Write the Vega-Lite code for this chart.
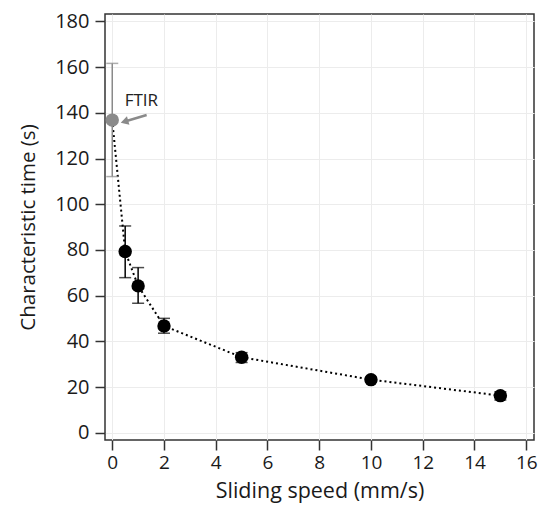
{
  "$schema": "https://vega.github.io/schema/vega-lite/v6.json",
  "autosize": "none",
  "width": 429,
  "height": 426,
  "padding": {"left": 105, "top": 14, "right": 6, "bottom": 69},
  "background": "white",
  "config": {
    "view": {"stroke": "#333333", "strokeWidth": 1.5},
    "axis": {
      "labelFont": "Open Sans",
      "titleFont": "Open Sans",
      "labelFontSize": 19,
      "titleFontSize": 21,
      "titleFontWeight": "normal",
      "labelColor": "#1a1a1a",
      "titleColor": "#1a1a1a",
      "domain": false,
      "tickColor": "#333333",
      "tickWidth": 1.5,
      "tickSize": 10,
      "gridColor": "#ececec",
      "gridWidth": 1
    }
  },
  "datasets": {
    "pts": [
      {"speed": 0, "time": 136.8, "lo": 112.1, "hi": 161.6, "method": "FTIR"},
      {"speed": 0.5, "time": 79.3, "lo": 67.9, "hi": 90.5, "method": "Sliding"},
      {"speed": 1, "time": 64.3, "lo": 56.7, "hi": 72.3, "method": "Sliding"},
      {"speed": 2, "time": 46.8, "lo": 43.6, "hi": 50.1, "method": "Sliding"},
      {"speed": 5, "time": 33.1, "lo": 30.8, "hi": 35.1, "method": "Sliding"},
      {"speed": 10, "time": 23.3, "lo": 22.3, "hi": 24.3, "method": "Sliding"},
      {"speed": 15, "time": 16.3, "lo": 14.4, "hi": 18.0, "method": "Sliding"}
    ],
    "arrow": [
      {"x1": 1.33, "y1": 139.0, "x2": 0.52, "y2": 136.3, "label": "FTIR", "lx": 0.48, "ly": 145.0}
    ]
  },
  "layer": [
    {
      "data": {"name": "pts"},
      "mark": {"type": "line", "color": "black", "strokeDash": [2, 3], "strokeWidth": 2},
      "encoding": {
        "x": {
          "field": "speed", "type": "quantitative",
          "scale": {"domain": [-0.28, 16.3], "nice": false, "zero": false},
          "axis": {"values": [0, 2, 4, 6, 8, 10, 12, 14, 16], "title": "Sliding speed (mm/s)", "titleFontSize": 21.5, "grid": true, "labelPadding": 3, "titlePadding": 8}
        },
        "y": {
          "field": "time", "type": "quantitative",
          "scale": {"domain": [-3.1, 183.2], "nice": false, "zero": false},
          "axis": {"values": [0, 20, 40, 60, 80, 100, 120, 140, 160, 180], "title": "Characteristic time (s)", "titleFontSize": 20.5, "labelFontSize": 20, "grid": true, "labelPadding": 6, "titlePadding": 16}
        },
        "order": {"field": "speed"}
      }
    },
    {
      "data": {"name": "pts"},
      "mark": {"type": "rule", "strokeWidth": 1.5},
      "encoding": {
        "x": {"field": "speed", "type": "quantitative"},
        "y": {"field": "lo", "type": "quantitative"},
        "y2": {"field": "hi"},
        "color": {"field": "method", "type": "nominal", "scale": {"domain": ["FTIR", "Sliding"], "range": ["#8a8a8a", "#000000"]}, "legend": null}
      }
    },
    {
      "data": {"name": "pts"},
      "mark": {"type": "tick", "orient": "horizontal", "size": 12, "thickness": 1.5},
      "encoding": {
        "x": {"field": "speed", "type": "quantitative"},
        "y": {"field": "lo", "type": "quantitative"},
        "color": {"field": "method", "type": "nominal", "legend": null}
      }
    },
    {
      "data": {"name": "pts"},
      "mark": {"type": "tick", "orient": "horizontal", "size": 12, "thickness": 1.5},
      "encoding": {
        "x": {"field": "speed", "type": "quantitative"},
        "y": {"field": "hi", "type": "quantitative"},
        "color": {"field": "method", "type": "nominal", "legend": null}
      }
    },
    {
      "data": {"name": "pts"},
      "mark": {"type": "point", "filled": true, "opacity": 1, "size": 180, "shape": "circle"},
      "encoding": {
        "x": {"field": "speed", "type": "quantitative"},
        "y": {"field": "time", "type": "quantitative"},
        "color": {"field": "method", "type": "nominal", "legend": null}
      }
    },
    {
      "data": {"name": "arrow"},
      "mark": {"type": "rule", "color": "#8a8a8a", "strokeWidth": 2.5},
      "encoding": {
        "x": {"field": "x1", "type": "quantitative"},
        "y": {"field": "y1", "type": "quantitative"},
        "x2": {"field": "x2"},
        "y2": {"field": "y2"}
      }
    },
    {
      "data": {"name": "arrow"},
      "mark": {"type": "point", "shape": "triangle", "filled": true, "opacity": 1, "color": "#8a8a8a", "size": 80, "angle": 254},
      "encoding": {
        "x": {"field": "x2", "type": "quantitative"},
        "y": {"field": "y2", "type": "quantitative"}
      }
    },
    {
      "data": {"name": "arrow"},
      "mark": {"type": "text", "font": "Open Sans", "fontSize": 17, "align": "left", "baseline": "middle", "color": "#222222"},
      "encoding": {
        "x": {"field": "lx", "type": "quantitative"},
        "y": {"field": "ly", "type": "quantitative"},
        "text": {"field": "label"}
      }
    }
  ]
}
